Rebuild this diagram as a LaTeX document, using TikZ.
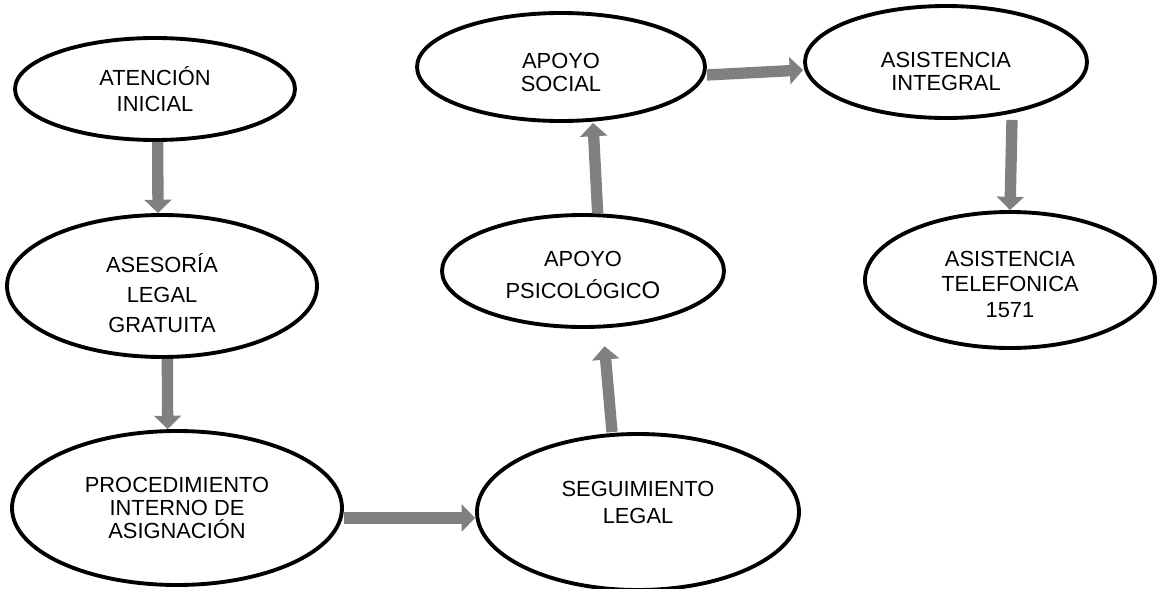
\documentclass[tikz,border=0pt]{standalone}
\usepackage{fontspec}
\setmainfont{Liberation Sans}
\usepackage{tikz}
\usetikzlibrary{shapes.geometric,arrows.meta}

\tikzset{
  etapa/.style={draw=black, line width=2.9pt, ellipse, inner sep=0pt,
    align=center, font=\fontsize{16.4}{#1}\selectfont},
  etapa/.default=20pt,
  flujo/.style={draw=black!50, line width=8.5pt,
    -{Triangle[width=20pt,length=10pt]}}
}

\begin{document}
\begin{tikzpicture}[x=0.75pt, y=-0.75pt]
  \useasboundingbox (0,0) rectangle (1158,589);

  % etapas (centros en pixeles, tamanos en pt)
  \node[etapa=20pt, minimum width=210pt, minimum height=76.5pt] (atencion) at (155,89)
    {ATENCIÓN\\INICIAL};
  \node[etapa=22.5pt, minimum width=232.5pt, minimum height=106.5pt] (asesoria) at (162,286)
    {\mbox{}\\[2.1pt]ASESORÍA\\LEGAL\\GRATUITA};
  \node[etapa=17pt, minimum width=247.5pt, minimum height=115.5pt] (procedimiento) at (177,508)
    {PROCEDIMIENTO\\INTERNO DE\\ASIGNACIÓN};
  \node[etapa=20pt, minimum width=241.5pt, minimum height=117pt] (seguimiento) at (638,512)
    {SEGUIMIENTO\\LEGAL\\[-6pt]};
  \node[etapa=24pt, minimum width=211.5pt, minimum height=84pt] (psicologico) at (583,271)
    {\mbox{}\\[-6.3pt]APOYO\\PSICOLÓGIC{\fontsize{18}{24}\selectfont O}};
  \node[etapa=17pt, minimum width=216pt, minimum height=81pt] (social) at (561,67)
    {\mbox{}\\[2.2pt]APOYO\\SOCIAL};
  \node[etapa=17pt, minimum width=211.5pt, minimum height=84pt] (integral) at (946,62)
    {\mbox{}\\[8.2pt]ASISTENCIA\\INTEGRAL};
  \node[etapa=19pt, minimum width=217.5pt, minimum height=102pt] (telefonica) at (1010,280)
    {\mbox{}\\[-1.3pt]ASISTENCIA\\TELEFONICA\\1571};

  % flechas
  \draw[flujo] ([xshift=2pt]atencion.south) -- ([xshift=-3pt]asesoria.north);
  \draw[flujo] ([xshift=4pt]asesoria.south) -- ([xshift=-7pt]procedimiento.north);
  \draw[flujo] ([yshift=-7.5pt]procedimiento.east) -- ([yshift=-4.5pt]seguimiento.west);
  \draw[flujo, shorten >=13pt] ([xshift=-19.5pt]seguimiento.north)
    -- ([xshift=15pt]psicologico.south);
  \draw[flujo] ([xshift=11pt]psicologico.north) -- ([xshift=24pt]social.south);
  \draw[flujo] ([yshift=-6pt]social.east) -- ([yshift=-6pt]integral.west);
  \draw[flujo] ([xshift=49.5pt]integral.south) -- (telefonica.north);
\end{tikzpicture}
\end{document}
